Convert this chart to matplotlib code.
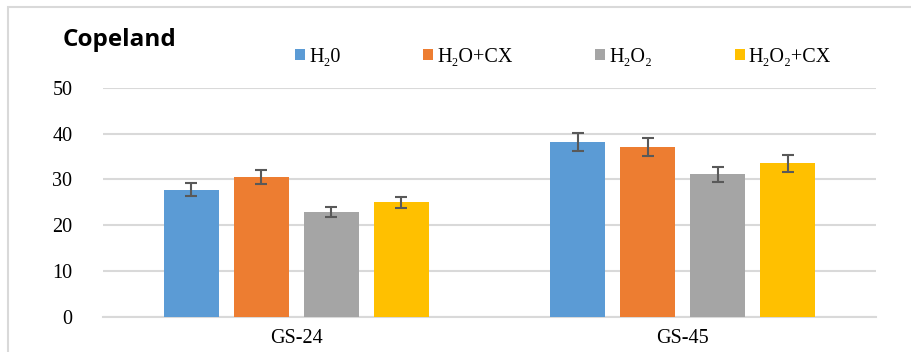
import matplotlib
matplotlib.use("Agg")
import matplotlib.pyplot as plt
from matplotlib.patches import Patch, Rectangle
import numpy as np

categories = ["GS-24", "GS-45"]
series_names = ["H\u20820", "H\u2082O+CX", "H\u2082O\u2082", "H\u2082O\u2082+CX"]
values = {
    "H\u20820": [27.8, 38.2],
    "H\u2082O+CX": [30.6, 37.1],
    "H\u2082O\u2082": [22.9, 31.1],
    "H\u2082O\u2082+CX": [25.0, 33.5],
}
errors = {
    "H\u20820": [1.43, 1.98],
    "H\u2082O+CX": [1.54, 1.91],
    "H\u2082O\u2082": [1.13, 1.60],
    "H\u2082O\u2082+CX": [1.24, 1.76],
}
colors = ["#5B9BD5", "#ED7D31", "#A5A5A5", "#FFC000"]
yticks = [0, 10, 20, 30, 40, 50]

serif = ["Liberation Serif", "DejaVu Serif"]

fig = plt.figure(figsize=(9.12, 3.52), dpi=100)
fig.patches.append(Rectangle((8.5 / 912, -0.1), 1.1, 1 - 7 / 352 + 0.1,
                             transform=fig.transFigure, fill=False,
                             edgecolor="#d9d9d9", linewidth=1.5))
ax = fig.add_axes([103 / 912, 1 - 316.7 / 352, (876 - 103) / 912, (316.7 - 88) / 352])

x = np.arange(len(categories))
bw = 55 / 386.5
step = 70 / 386.5
for i, (name, c) in enumerate(zip(series_names, colors)):
    pos = x + (i - 1.5) * step
    ax.bar(pos, values[name], width=bw, color=c, zorder=3)
    ax.errorbar(pos, values[name], yerr=errors[name], fmt="none",
                ecolor="#595959", elinewidth=1.5, capsize=4.5, capthick=1.5, zorder=4)

ax.set_xlim(-0.5, 1.5)
ax.set_ylim(0, 50)
ax.set_yticks(yticks)
ax.set_xticks(x)
ax.set_xticklabels(categories, fontfamily=serif, fontsize=14.5)
ax.set_yticklabels([str(t) for t in yticks], fontfamily=serif, fontsize=14.5)
ax.tick_params(axis="both", length=0, pad=4)
ax.tick_params(axis="y", pad=22)
ax.tick_params(axis="x", pad=9)
ax.grid(axis="y", color="#d9d9d9", linewidth=1.5, zorder=0)
for s in ["top", "right", "left"]:
    ax.spines[s].set_visible(False)
ax.spines["bottom"].set_color("#d9d9d9")
ax.spines["bottom"].set_linewidth(1.5)

fig.text(63 / 912, 1 - 46 / 352, "Copeland", fontsize=17.5, fontweight="bold",
         fontfamily=["Open Sans", "DejaVu Sans"], ha="left", va="baseline")

handles = [Patch(facecolor=c, edgecolor="none") for c in colors]
fig.legend(handles, series_names, loc="center", bbox_to_anchor=(563 / 912, 1 - 57 / 352),
           ncol=4, frameon=False, prop={"family": serif, "size": 14.5},
           handlelength=0.5, handleheight=0.5, handletextpad=0.2, columnspacing=4.1,
           borderpad=0, borderaxespad=0)

fig.savefig("out.png", dpi=100)
